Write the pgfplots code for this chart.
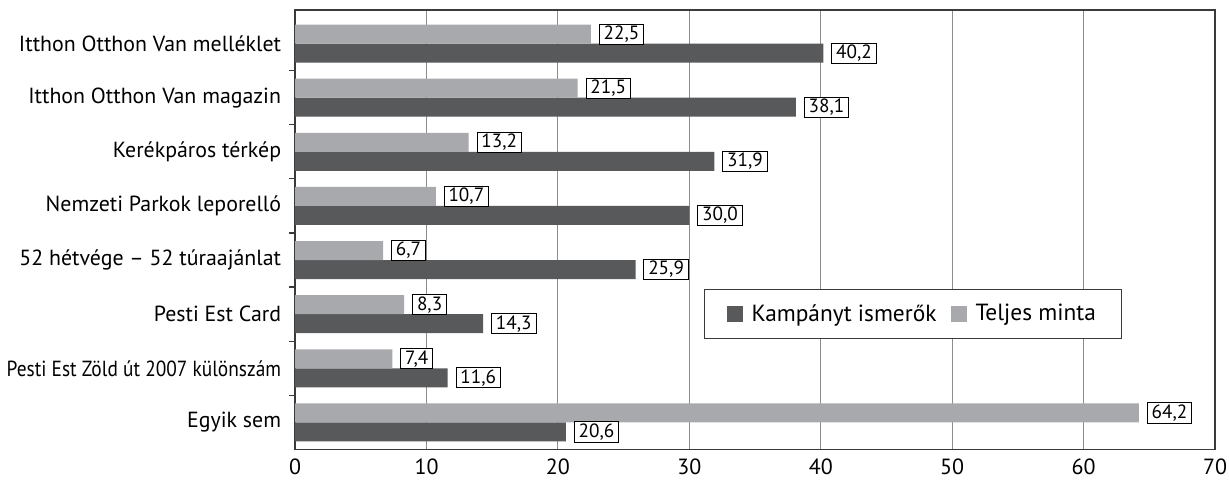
\documentclass[border=0pt]{standalone}
\usepackage{fontspec}
\setmainfont{PT Sans}
\usepackage{graphicx}
\usepackage{pgfplots}
\pgfplotsset{compat=1.18}

\definecolor{darkbar}{HTML}{58595B}
\definecolor{lightbar}{HTML}{A7A9AC}
\definecolor{gridgray}{HTML}{8C8C8C}
\definecolor{axisgray}{HTML}{3A3A3A}

\begin{document}
\begin{tikzpicture}
\begin{axis}[
    name=main,
    scale only axis,
    width=460.5pt, height=220pt,
    xbar, bar width=9.5pt,
    xmin=0, xmax=70,
    ymin=-0.5, ymax=7.62,
    xtick={0,10,...,70},
    ytick={0,...,7},
    yticklabels={Egyik sem, \scalebox{0.885}[1]{Pesti Est Zöld út 2007 különszám}, Pesti Est Card,
        52 hétvége – 52 túraajánlat, Nemzeti Parkok leporelló, Kerékpáros térkép,
        Itthon Otthon Van magazin, Itthon Otthon Van melléklet},
    minor ytick={0.5,1.5,...,6.5},
    ytick pos=left, xtick pos=bottom,
    major tick length=0pt,
    minor tick length=3pt,
    tick align=outside,
    xmajorgrids,
    major grid style={gridgray, line width=0.5pt},
    axis line style={axisgray, line width=0.75pt},
    every minor tick/.style={axisgray, line width=0.6pt},
    xticklabel style={font=\fontsize{11}{13}\selectfont, inner xsep=1pt, yshift=-1pt},
    yticklabel style={font=\fontsize{10.95}{13}\selectfont, xshift=-3.5pt},
    /pgf/number format/assume math mode=true,
    clip=false,
    point meta=x,
    nodes near coords={\pgfmathprintnumber[fixed,fixed zerofill,precision=1,use comma]{\pgfplotspointmeta}},
    every node near coord/.append style={font=\fontsize{9.6}{10}\selectfont, draw=black, line width=0.4pt,
        fill=white, inner xsep=2.2pt, inner ysep=0.9pt, xshift=4pt},
    legend columns=2,
    legend style={at={(0.672,0.308)}, anchor=center, draw=axisgray, line width=0.5pt,
        font=\fontsize{11.7}{13}\selectfont, inner xsep=11pt, inner ysep=5.5pt,
        /tikz/every even column/.append style={column sep=5pt}},
    legend image code/.code={\fill[#1] (0pt,-4pt) rectangle (8pt,4pt); \path (10.5pt,0pt);},
]
\addplot[fill=darkbar, draw=none, bar shift=-4.75pt] coordinates {
    (20.6,0) (11.6,1) (14.3,2) (25.9,3) (30.0,4) (31.9,5) (38.1,6) (40.2,7)
};
\addlegendentry{Kampányt ismerők}
\addplot[fill=lightbar, draw=none, bar shift=4.75pt] coordinates {
    (64.2,0) (7.4,1) (8.3,2) (6.7,3) (10.7,4) (13.2,5) (21.5,6) (22.5,7)
};
\addlegendentry{Teljes minta}
\end{axis}
\path (main.north west) ++(0,5pt);
\end{tikzpicture}
\end{document}
